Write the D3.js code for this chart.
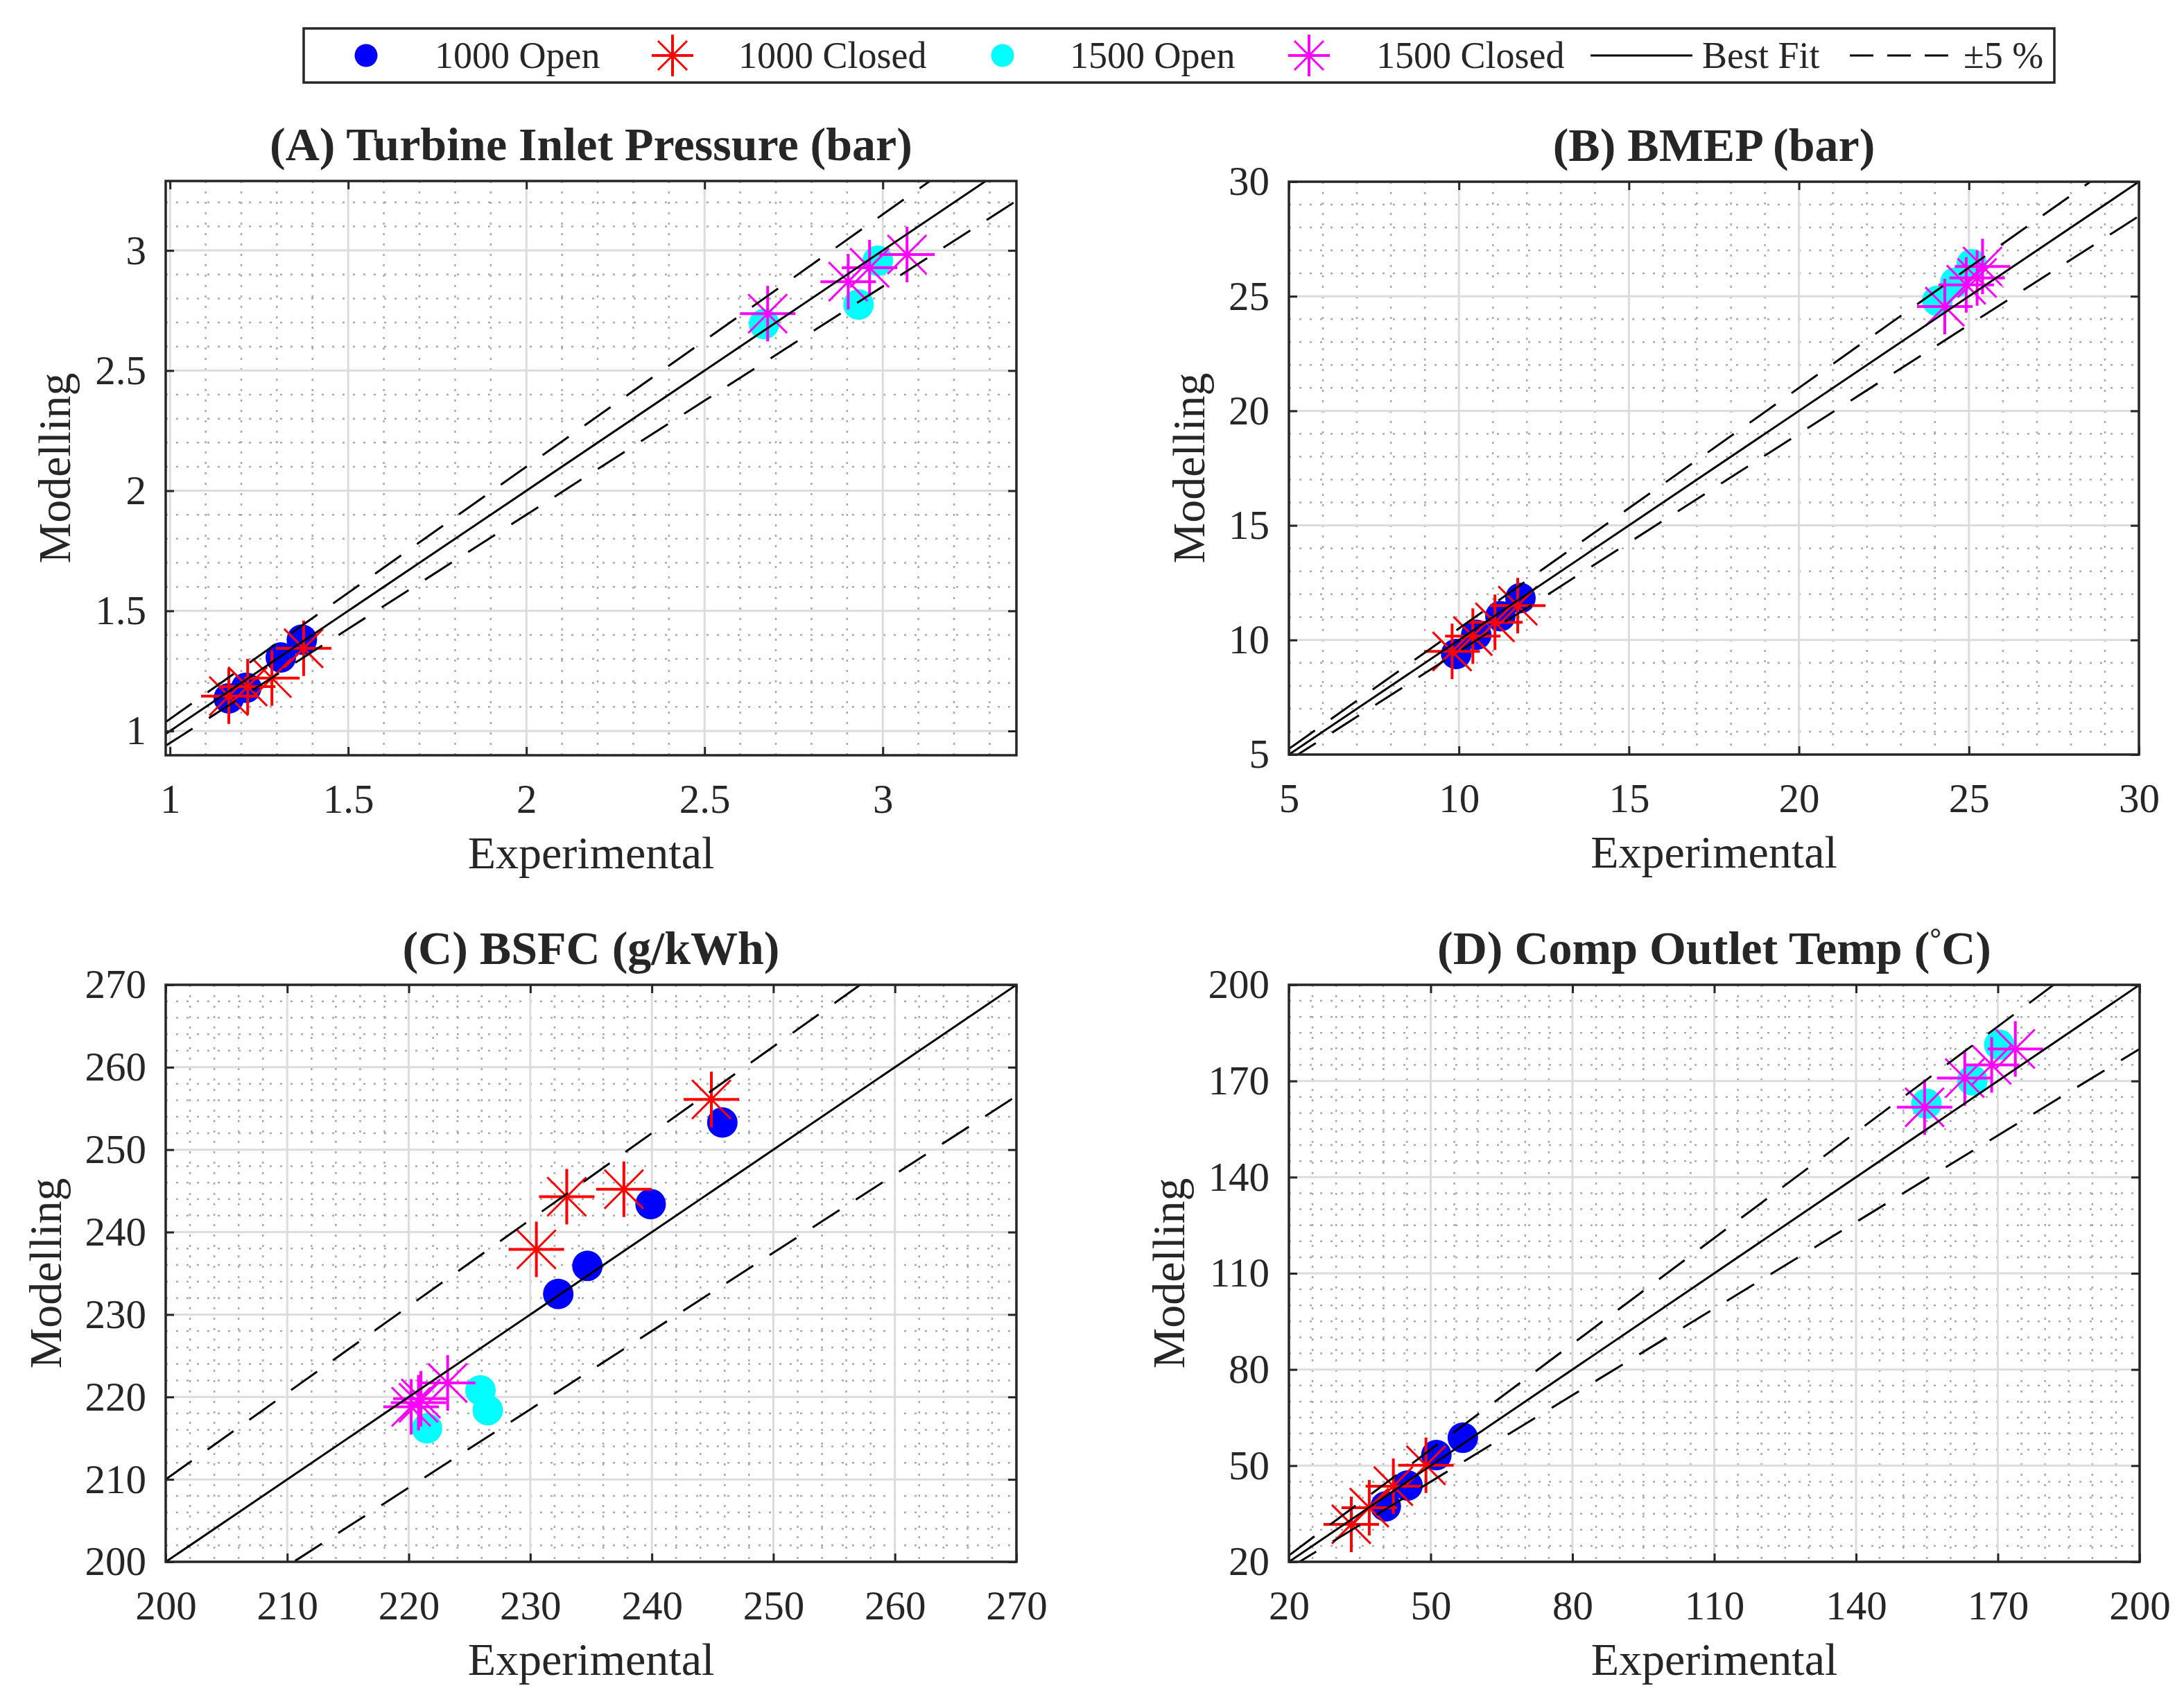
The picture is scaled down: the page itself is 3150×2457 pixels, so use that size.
<!DOCTYPE html>
<html>
<head>
<meta charset="utf-8">
<script src="https://cdn.jsdelivr.net/npm/d3@7"></script>
<style>
  body { margin: 0; background: #fff; }
  text { font-family: "Liberation Serif", "Times New Roman", serif; fill: #262626; }
</style>
</head>
<body>
<svg id="chart"></svg>
<script>
const width = 3150, height = 2457;

// series shared by all four panels
const seriesNames = ["1000 Open", "1000 Closed", "1500 Open", "1500 Closed"];
const seriesColors = ["#0000ff", "#ff0000", "#00ffff", "#ff00ff"];
const seriesMarkers = ["circle", "star", "circle", "star"];

// (A) turbine inlet pressure, bar
const tipExp = [
  [1.165, 1.214, 1.311, 1.37],
  [1.165, 1.218, 1.286, 1.375],
  [2.667, 2.932, 2.986],
  [2.677, 2.903, 2.963, 3.068]
];
const tipMod = [
  [1.136, 1.18, 1.306, 1.38],
  [1.145, 1.185, 1.22, 1.344],
  [2.694, 2.775, 2.957],
  [2.737, 2.87, 2.928, 2.983]
];

// (B) BMEP, bar
const bmepExp = [
  [9.92, 10.51, 11.22, 11.81],
  [9.8, 10.41, 11.06, 11.73],
  [24.07, 24.6, 25.08],
  [24.29, 24.92, 25.24, 25.4]
];
const bmepMod = [
  [9.39, 10.23, 11.04, 11.83],
  [9.5, 10.17, 10.77, 11.5],
  [24.8, 25.6, 26.4],
  [24.55, 25.5, 25.8, 26.3]
];

// (C) BSFC, g/kWh
const bsfcExp = [
  [232.3, 234.7, 239.9, 245.8],
  [230.5, 233.0, 237.7, 244.9],
  [221.5, 225.9, 226.5],
  [220.2, 220.8, 221.0, 223.2]
];
const bsfcMod = [
  [232.5, 235.9, 243.4, 253.3],
  [237.9, 244.3, 245.2, 256.1],
  [216.2, 220.8, 218.4],
  [218.8, 219.3, 219.8, 221.7]
];

// (D) compressor outlet temperature, degC
const cotExp = [
  [40.5, 45.1, 51.2, 56.8],
  [33.2, 37.0, 42.1, 49.0],
  [154.9, 164.6, 170.3],
  [154.5, 163.0, 168.7, 173.7]
];
const cotMod = [
  [37.3, 43.8, 53.3, 58.7],
  [31.7, 36.9, 43.6, 50.1],
  [162.9, 170.2, 181.3],
  [161.8, 170.9, 175.0, 180.0]
];

const panelTitles = ["(A) Turbine Inlet Pressure (bar)", "(B) BMEP (bar)", "(C) BSFC (g/kWh)", "(D) Comp Outlet Temp ("];
const xDomains = [[0.988, 3.375], [5, 30], [200, 270], [20, 200]];
const yDomains = [[0.899, 3.289], [5, 30], [200, 270], [20, 200]];
const majorTicks = [
  [1, 1.5, 2, 2.5, 3],
  [5, 10, 15, 20, 25, 30],
  [200, 210, 220, 230, 240, 250, 260, 270],
  [20, 50, 80, 110, 140, 170, 200]
];
const minorSteps = [0.1, 1, 2, 5];
const bandFrac = [0.05, 0.05, 0.05, 0.10];

const panelExp = [tipExp, bmepExp, bsfcExp, cotExp];
const panelMod = [tipMod, bmepMod, bsfcMod, cotMod];

// layout of the four axes boxes
const boxes = [
  { left: 239, top: 261, w: 1227, h: 828, ylab: 138 },
  { left: 1859, top: 262, w: 1226, h: 826, ylab: 122 },
  { left: 239, top: 1420, w: 1227, h: 832, ylab: 151 },
  { left: 1859, top: 1420, w: 1227, h: 832, ylab: 151 }
];

const svg = d3.select("#chart")
  .attr("width", width)
  .attr("height", height)
  .attr("viewBox", `0 0 ${width} ${height}`);

svg.append("rect").attr("width", width).attr("height", height).attr("fill", "#fff");

const starPlus = r => `M${-r},0H${r}M0,${-r}V${r}`;
const starCross = r => { const d = r * 0.7; return `M${-d},${-d}L${d},${d}M${-d},${d}L${d},${-d}`; };

function drawMarker(sel, kind, color, size) {
  if (kind === "circle") {
    sel.append("circle").attr("r", 22 * size).attr("fill", color);
  } else {
    sel.append("path").attr("d", starCross(40 * size)).attr("stroke", color)
      .attr("stroke-width", 3).attr("fill", "none");
    sel.append("path").attr("d", starPlus(40 * size)).attr("stroke", color)
      .attr("stroke-width", 4).attr("fill", "none");
  }
}

boxes.forEach((b, i) => {
  const x = d3.scaleLinear().domain(xDomains[i]).range([0, b.w]);
  const y = d3.scaleLinear().domain(yDomains[i]).range([b.h, 0]);

  const g = svg.append("g").attr("transform", `translate(${b.left},${b.top})`);

  g.append("defs").append("clipPath").attr("id", "clip" + i)
    .append("rect").attr("width", b.w).attr("height", b.h);

  // minor grid (dotted)
  const step = minorSteps[i];
  const minorX = d3.range(Math.ceil(xDomains[i][0] / step) * step, xDomains[i][1] + 1e-9, step)
    .filter(v => !majorTicks[i].some(t => Math.abs(t - v) < step / 10));
  const minorY = d3.range(Math.ceil(yDomains[i][0] / step) * step, yDomains[i][1] + 1e-9, step)
    .filter(v => !majorTicks[i].some(t => Math.abs(t - v) < step / 10));

  const grid = g.append("g").attr("clip-path", `url(#clip${i})`);
  grid.selectAll(".mvx").data(minorX).enter().append("line")
    .attr("x1", d => x(d)).attr("x2", d => x(d)).attr("y1", 0).attr("y2", b.h)
    .attr("stroke", "#a9a9a9").attr("stroke-width", 2.5).attr("stroke-dasharray", "3,12");
  grid.selectAll(".mhy").data(minorY).enter().append("line")
    .attr("y1", d => y(d)).attr("y2", d => y(d)).attr("x1", 0).attr("x2", b.w)
    .attr("stroke", "#a9a9a9").attr("stroke-width", 2.5).attr("stroke-dasharray", "3,12");

  // major grid
  grid.selectAll(".gx").data(majorTicks[i]).enter().append("line")
    .attr("x1", d => x(d)).attr("x2", d => x(d)).attr("y1", 0).attr("y2", b.h)
    .attr("stroke", "#dcdcdc").attr("stroke-width", 3);
  grid.selectAll(".gy").data(majorTicks[i]).enter().append("line")
    .attr("y1", d => y(d)).attr("y2", d => y(d)).attr("x1", 0).attr("x2", b.w)
    .attr("stroke", "#dcdcdc").attr("stroke-width", 3);

  // data markers
  const exp = panelExp[i], mod = panelMod[i];
  seriesNames.forEach((name, s) => {
    const pts = exp[s].map((v, k) => [v, mod[s][k]]);
    g.append("g").selectAll("g").data(pts).enter().append("g")
      .attr("transform", d => `translate(${x(d[0])},${y(d[1])})`)
      .each(function () { drawMarker(d3.select(this), seriesMarkers[s], seriesColors[s], 1); });
  });

  // best fit and band lines
  const line = d3.line().x(d => x(d[0])).y(d => y(d[1]));
  const xs = xDomains[i];
  const lines = g.append("g").attr("clip-path", `url(#clip${i})`);
  lines.append("path").attr("d", line(xs.map(v => [v, v])))
    .attr("stroke", "#000").attr("stroke-width", 3).attr("fill", "none");
  [1 + bandFrac[i], 1 - bandFrac[i]].forEach(f => {
    lines.append("path").attr("d", line(xs.map(v => [v, v * f])))
      .attr("stroke", "#000").attr("stroke-width", 3).attr("fill", "none")
      .attr("stroke-dasharray", "46,28");
  });

  // axes with inward ticks
  const fmt = d3.format("~g");
  const styleAxis = a => {
    a.select(".domain").remove();
    a.selectAll(".tick line").attr("stroke", "#262626").attr("stroke-width", 3);
    a.selectAll("text").attr("font-size", 59).attr("fill", "#262626")
      .attr("font-family", '"Liberation Serif", "Times New Roman", serif');
  };
  g.append("g").attr("transform", `translate(0,${b.h})`)
    .call(d3.axisBottom(x).tickValues(majorTicks[i]).tickFormat(fmt).tickSize(-12).tickSizeOuter(0).tickPadding(41))
    .call(styleAxis);
  g.append("g")
    .call(d3.axisLeft(y).tickValues(majorTicks[i]).tickFormat(fmt).tickSize(-12).tickSizeOuter(0).tickPadding(28))
    .call(styleAxis);
  g.append("g")
    .call(d3.axisTop(x).tickValues(majorTicks[i]).tickFormat("").tickSize(-12).tickSizeOuter(0))
    .call(styleAxis);
  g.append("g").attr("transform", `translate(${b.w},0)`)
    .call(d3.axisRight(y).tickValues(majorTicks[i]).tickFormat("").tickSize(-12).tickSizeOuter(0))
    .call(styleAxis);

  g.append("rect").attr("width", b.w).attr("height", b.h)
    .attr("fill", "none").attr("stroke", "#262626").attr("stroke-width", 3.5);

  // title and labels
  const title = g.append("text").attr("x", b.w / 2).attr("y", -30)
    .attr("text-anchor", "middle").attr("font-size", 68).attr("font-weight", "bold")
    .attr("fill", "#000")
    .text(panelTitles[i]);
  if (i === 3) {
    title.append("tspan").attr("baseline-shift", "super").attr("font-size", 42).text("°");
    title.append("tspan").text("C)");
  }
  g.append("text").attr("x", b.w / 2).attr("y", b.h + 163)
    .attr("text-anchor", "middle").attr("font-size", 66).text("Experimental");
  g.append("text").attr("transform", `translate(${-b.ylab},${b.h / 2}) rotate(-90)`)
    .attr("text-anchor", "middle").attr("font-size", 66).text("Modelling");
});

// legend
const legend = svg.append("g");
legend.append("rect").attr("x", 438).attr("y", 41).attr("width", 2525).attr("height", 78)
  .attr("fill", "#fff").attr("stroke", "#262626").attr("stroke-width", 3.5);
const legMarkX = [528, 970, 1446, 1888];
const legTextX = [627, 1065, 1543, 1985];
seriesNames.forEach((name, s) => {
  const m = legend.append("g").attr("transform", `translate(${legMarkX[s]},80)`);
  drawMarker(m, seriesMarkers[s], seriesColors[s], 0.75);
  legend.append("text").attr("x", legTextX[s]).attr("y", 98).attr("font-size", 54).text(name);
});
legend.append("line").attr("x1", 2294).attr("x2", 2441).attr("y1", 80).attr("y2", 80)
  .attr("stroke", "#000").attr("stroke-width", 3);
legend.append("text").attr("x", 2455).attr("y", 98).attr("font-size", 54).text("Best Fit");
legend.append("line").attr("x1", 2668).attr("x2", 2822).attr("y1", 80).attr("y2", 80)
  .attr("stroke", "#000").attr("stroke-width", 3).attr("stroke-dasharray", "34,20");
legend.append("text").attr("x", 2832).attr("y", 98).attr("font-size", 54).text("±5 %");
</script>
</body>
</html>
